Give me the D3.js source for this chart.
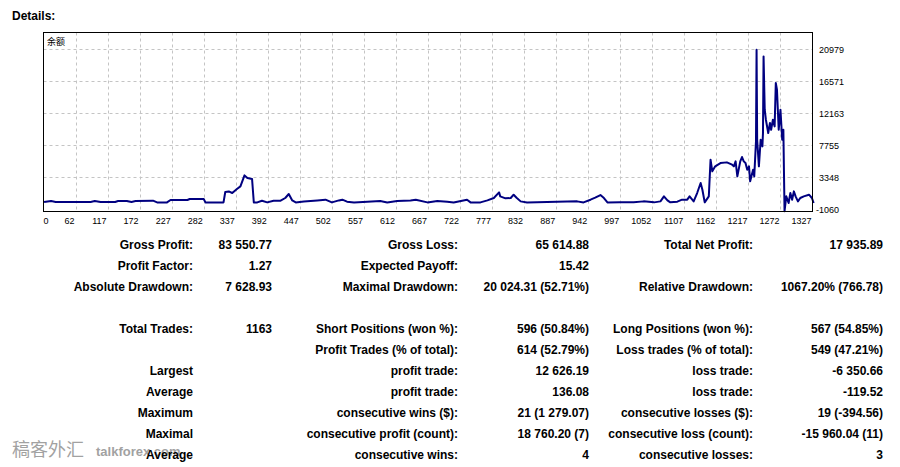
<!DOCTYPE html>
<html>
<head>
<meta charset="utf-8">
<script src="https://cdn.jsdelivr.net/npm/d3@7"></script>
<style>
  body { margin: 0; background: #fff; }
  svg { display: block; }
</style>
</head>
<body>
<div class="report-div"></div>
<script>
// balance curve (trade number / value)
const tradeIdx = [8,20,28,88,95,105,130,135,150,158,165,195,202,219,225,254,258,282,285,316,
  319,325,331,339,345,352,357,365,368,374,382,391,402,414,422,428,434,440,454,477,491,502,514,
  520,528,540,563,585,597,614,637,646,666,683,700,711,734,740,757,769,780,789,791,800,809,814,
  819,826,837,923,934,946,954,963,969,975,
  997,1020,1037,1055,1066,1072,1078,1083,1095,1103,1112,1116,1123,1129,1135,1138,1142,1149,
  1152,1155,1160,1169,1180,1189,1192,1195,1198,1203,1206,1209,1212,1215,1218,1220,1225,1227,
  1230,1231,1232,1235,1238,1241,1242,1243,1245,1247,1251,1254,1256,1259,1262,1264,1266,1269,
  1272,1275,1277,1278,1279,1282,1286,1289,1292,1295,1298,1302,1306,1312,1321,1326,1329];
const balance = [-30,100,-30,-30,100,-30,-30,100,107,-30,107,148,-85,-85,244,244,382,382,-85,-85,
  1343,1425,1205,1755,2112,3622,3265,3128,-85,-85,148,-85,148,148,519,1068,189,-85,52,189,286,-85,189,
  286,11,-85,11,103,-85,103,189,286,-85,103,11,-85,286,-85,-85,189,515,1292,743,468,515,972,
  560,56,-85,56,-85,286,560,927,515,-85,
  -81,-81,56,-81,56,743,194,-81,11,286,286,743,56,1201,2574,1659,-81,743,
  5778,4176,4862,5320,5411,5091,4862,5549,3489,5549,6144,5549,5320,4405,4862,2803,4405,3489,
  8295,20881,8524,4862,8524,7608,9439,19965,12643,11270,9439,10812,9897,11270,10354,16304,15389,9897,
  12643,8524,9897,4176,-1300,743,-172,1201,286,1429,743,56,515,743,972,515,-172];

// axis tick labels
const xTicks = [0,62,117,172,227,282,337,392,447,502,557,612,667,722,777,832,887,942,997,1052,1107,1162,1217,1272,1327];
const yTicks = [20979,16571,12163,7755,3348,-1060];

// stats table, one array per column
const col1Labels = ["Gross Profit:","Profit Factor:","Absolute Drawdown:","Total Trades:","","Largest","Average","Maximum","Maximal","Average"];
const col2Values = ["83 550.77","1.27","7 628.93","1163","","","","","",""];
const col3Labels = ["Gross Loss:","Expected Payoff:","Maximal Drawdown:","Short Positions (won %):","Profit Trades (% of total):","profit trade:","profit trade:","consecutive wins ($):","consecutive profit (count):","consecutive wins:"];
const col4Values = ["65 614.88","15.42","20 024.31 (52.71%)","596 (50.84%)","614 (52.79%)","12 626.19","136.08","21 (1 279.07)","18 760.20 (7)","4"];
const col5Labels = ["Total Net Profit:","","Relative Drawdown:","Long Positions (won %):","Loss trades (% of total):","loss trade:","loss trade:","consecutive losses ($):","consecutive loss (count):","consecutive losses:"];
const col6Values = ["17 935.89","","1067.20% (766.78)","567 (54.85%)","549 (47.21%)","-6 350.66","-119.52","19 (-394.56)","-15 960.04 (11)","3"];

let width = 900;
let height = 467;

let svg = d3.select(".report-div").append("svg")
  .attr("width", width)
  .attr("height", height);

const frame = { left: 43.5, right: 812.5, top: 32.5, bottom: 211.5 };

let x = d3.scaleLinear()
  .domain([7, 1327])
  .range([frame.left, frame.right]);

let y = d3.scaleLinear()
  .domain([-1335, 23245])
  .range([frame.bottom, frame.top]);

// title
svg.append("text")
  .attr("x", 12)
  .attr("y", 19.5)
  .style("font", "bold 12px 'Liberation Sans', Arial, sans-serif")
  .text("Details:");

// watermark
let wm = svg.append("g").style("opacity", 0.55);
wm.append("text")
  .attr("x", 12)
  .attr("y", 456)
  .style("font", "18px 'Noto Sans CJK SC', sans-serif")
  .style("fill", "#555")
  .text("稿客外汇");
wm.append("text")
  .attr("x", 96)
  .attr("y", 456)
  .style("font", "bold 13px 'Liberation Sans', Arial, sans-serif")
  .style("fill", "#555")
  .text("talkforex.com");

// grid
let grid = svg.append("g")
  .attr("stroke", "#c4c4c4")
  .attr("stroke-dasharray", "3,3");

grid.selectAll("line.vgrid")
  .data(xTicks.filter(d => d > 0 && d < 1327))
  .enter()
  .append("line")
  .attr("class", "vgrid")
  .attr("x1", d => Math.round(x(d)) + 0.5)
  .attr("x2", d => Math.round(x(d)) + 0.5)
  .attr("y1", frame.top)
  .attr("y2", frame.bottom);

grid.selectAll("line.hgrid")
  .data(yTicks.filter(d => d > 0))
  .enter()
  .append("line")
  .attr("class", "hgrid")
  .attr("x1", frame.left)
  .attr("x2", frame.right)
  .attr("y1", d => Math.round(y(d)) + 0.5)
  .attr("y2", d => Math.round(y(d)) + 0.5);

// balance line
let points = tradeIdx.map((t, i) => [t, balance[i]]);
let line = d3.line()
  .x(d => x(d[0]))
  .y(d => y(d[1]));

svg.append("path")
  .datum(points)
  .attr("d", line)
  .attr("fill", "none")
  .attr("stroke", "#000080")
  .attr("stroke-width", 2)
  .attr("stroke-linejoin", "round");

// frame
svg.append("rect")
  .attr("x", frame.left)
  .attr("y", frame.top)
  .attr("width", frame.right - frame.left)
  .attr("height", frame.bottom - frame.top)
  .attr("fill", "none")
  .attr("stroke", "#000");

svg.append("text")
  .attr("x", 47)
  .attr("y", 44.5)
  .style("font", "9px 'Noto Sans CJK SC', sans-serif")
  .text("余额");

// x labels, right aligned at the grid line (0 sits at the left edge)
svg.selectAll("text.xlab")
  .data(xTicks)
  .enter()
  .append("text")
  .attr("class", "xlab")
  .attr("x", d => d == 0 ? frame.left : x(d) - 1)
  .attr("y", 223.5)
  .style("text-anchor", d => d == 0 ? "start" : "end")
  .style("font", "9px 'Liberation Sans', Arial, sans-serif")
  .text(d => d);

// y labels on the right
svg.selectAll("text.ylab")
  .data(yTicks)
  .enter()
  .append("text")
  .attr("class", "ylab")
  .attr("x", d => d < 0 ? 816 : 819)
  .attr("y", d => y(d) + 3.5)
  .style("font", "9px 'Liberation Sans', Arial, sans-serif")
  .text(d => d);

// stats table
const colRight = [193, 272, 458, 589, 753, 883];
const cols = [col1Labels, col2Values, col3Labels, col4Values, col5Labels, col6Values];

let rowY = i => i < 3 ? 248.5 + 21 * i : 333 + 21 * (i - 3);

cols.forEach((col, c) => {
  svg.selectAll("text.col" + c)
    .data(col)
    .enter()
    .append("text")
    .attr("class", "col" + c)
    .attr("x", colRight[c])
    .attr("y", (d, i) => rowY(i))
    .style("text-anchor", "end")
    .style("font", "bold 12px 'Liberation Sans', Arial, sans-serif")
    .style("fill", "#000")
    .text(d => d);
});
</script>
</body>
</html>
